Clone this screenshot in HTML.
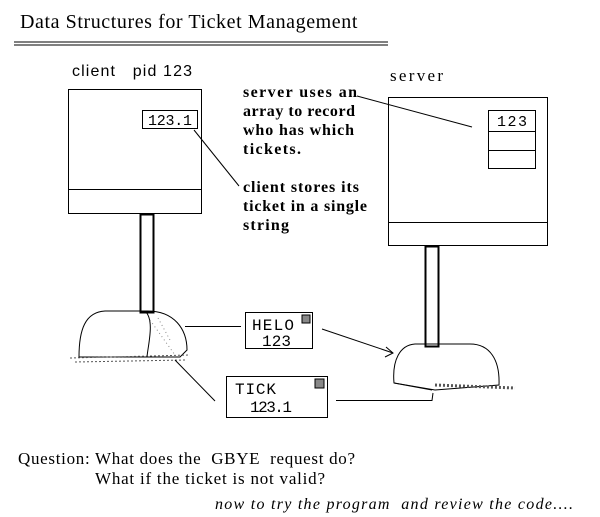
<!DOCTYPE html>
<html><head><meta charset="utf-8"><style>
html,body{margin:0;padding:0;background:#fff;}
svg{display:block;}
.s{font-family:"Liberation Serif",serif;}
.a{font-family:"Liberation Sans",sans-serif;}
.m{font-family:"Liberation Mono",monospace;}
text{white-space:pre;}
</style></head><body>
<svg width="600" height="517" viewBox="0 0 600 517" xmlns="http://www.w3.org/2000/svg" fill="none" stroke="#000" stroke-width="1">
<text x="20" y="28" class="s" font-size="20" letter-spacing="0.6" fill="#000" stroke="none" textLength="338">Data Structures for Ticket Management</text>
<line x1="14" y1="42" x2="388" y2="42"/><line x1="14" y1="45" x2="388" y2="45"/>
<text x="72" y="76" class="a" font-size="16" fill="#000" stroke="none" textLength="120" xml:space="preserve">client   pid 123</text>
<!-- client box -->
<rect x="68.5" y="89.5" width="133" height="124"/>
<line x1="68" y1="189.5" x2="201" y2="189.5"/>
<rect x="142.5" y="110.5" width="55" height="18"/>
<text x="148" y="125" class="m" font-size="15" fill="#000" stroke="none" textLength="44">123.1</text>
<line x1="194" y1="130" x2="239" y2="186"/>
<!-- client pole -->
<rect x="140.5" y="214.5" width="13" height="98" stroke-width="2"/>
<!-- client mailbox -->
<path d="M79,357 C79,330 85,312 105,311 L145,311 C175,310 187,330 187,350 L180,357 Z"/>
<path d="M145,311 C155,320 148,345 147,357" />
<path d="M70,358 L190,355 M75,362 L185,360" stroke="#555" stroke-dasharray="2 2"/>
<path d="M150,320 L175,355 M158,318 L170,340" stroke="#888" stroke-dasharray="1 3"/>
<!-- text -->
<g class="s" font-size="16" font-weight="bold" fill="#000" stroke="none">
<text x="243" y="97" textLength="114">server uses an</text>
<text x="243" y="116" textLength="112">array to record</text>
<text x="243" y="135" textLength="111">who has which</text>
<text x="243" y="154" textLength="58">tickets.</text>
<text x="243" y="192" textLength="116">client stores its</text>
<text x="243" y="211" textLength="124">ticket in a single</text>
<text x="243" y="230" textLength="46">string</text>
</g>
<text x="390" y="81" class="s" font-size="17" fill="#000" stroke="none" textLength="53">server</text>
<line x1="357" y1="96" x2="472" y2="127"/>
<!-- server box -->
<rect x="388.5" y="97.5" width="159" height="148"/>
<line x1="388" y1="222.5" x2="547" y2="222.5"/>
<rect x="488.5" y="110.5" width="47" height="58"/>
<line x1="488" y1="131.5" x2="536" y2="131.5"/><line x1="488" y1="150.5" x2="536" y2="150.5"/>
<text x="497" y="126" class="m" font-size="15" fill="#000" stroke="none" textLength="30">123</text>
<!-- server pole -->
<rect x="425.5" y="246.5" width="13" height="100" stroke-width="2"/>
<!-- server mailbox -->
<path d="M394,383 C392,360 400,345 415,344 L470,344 C490,344 500,360 499,385 L435,390 Z"/>
<path d="M394,383 L432,390"/>
<path d="M435,385 L515,388" stroke="#555" stroke-dasharray="2 2" stroke-width="3"/>
<!-- HELO -->
<rect x="245.5" y="312.5" width="67" height="36"/>
<rect x="302" y="315" width="8" height="8" fill="#888"/>
<text x="252" y="330" class="m" font-size="16" fill="#000" stroke="none" textLength="42">HELO</text>
<text x="262" y="346" class="m" font-size="16" fill="#000" stroke="none" textLength="29">123</text>
<line x1="185" y1="326.5" x2="241" y2="326.5"/>
<line x1="322" y1="329" x2="393" y2="353"/>
<path d="M386,347 L393,353 L385,357"/>
<!-- TICK -->
<rect x="226.5" y="376.5" width="101" height="41"/>
<rect x="315" y="379" width="9" height="9" fill="#888"/>
<text x="235" y="394" class="m" font-size="16" fill="#000" stroke="none" textLength="41">TICK</text>
<text x="250" y="412" class="m" font-size="16" fill="#000" stroke="none" textLength="42">123.1</text>
<line x1="175" y1="360" x2="215" y2="401"/>
<polyline points="336,400.5 432,400.5 433,393"/>
<!-- bottom text -->
<g class="s" font-size="17" fill="#000" stroke="none">
<text x="18" y="464" textLength="337" xml:space="preserve">Question: What does the  GBYE  request do?</text>
<text x="95" y="484" textLength="230">What if the ticket is not valid?</text>
<text x="215" y="509" font-style="italic" font-size="16" textLength="358">now to try the program  and review the code....</text>
</g>
</svg>
</body></html>
